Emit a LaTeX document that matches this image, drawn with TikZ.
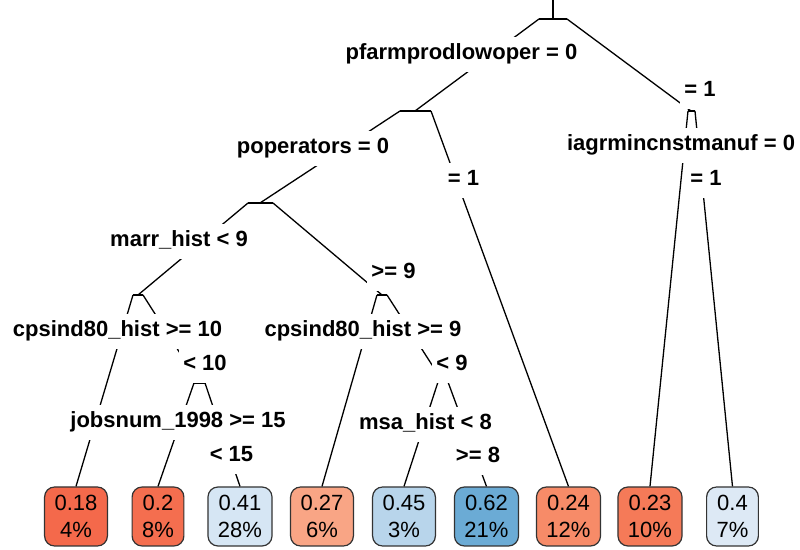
\documentclass[tikz,border=0pt]{standalone}
\usepackage{fontspec}
\setmainfont{Liberation Sans}
\definecolor{cA}{HTML}{F4694B}
\definecolor{cB}{HTML}{F46E4F}
\definecolor{cC}{HTML}{F57A58}
\definecolor{cD}{HTML}{F78B68}
\definecolor{cE}{HTML}{F9A585}
\definecolor{cF}{HTML}{D6E6F4}
\definecolor{cG}{HTML}{DDE9F5}
\definecolor{cH}{HTML}{B8D5EB}
\definecolor{cI}{HTML}{6BABD5}
\begin{document}
\begin{tikzpicture}[x=0.5pt,y=-0.5pt,
  branch/.style={line width=0.65pt, black},
  splitlabel/.style={font=\bfseries\fontsize{11}{13}\selectfont, fill=white,
    inner xsep=2pt, inner ysep=3.5pt, text height=8pt, text depth=2.4pt, anchor=base},
  leaf/.style={draw=black!80, line width=0.6pt, rounded corners=5pt, align=center,
    font=\fontsize{11}{13.5}\selectfont, minimum height=29.5pt, inner xsep=5pt, inner ysep=1pt}]
\useasboundingbox (0,0) rectangle (800,550);

% split points (centre of each bar) and bar ends
\coordinate (top) at (553,0);
\coordinate (r)   at (553,19);  \coordinate (rl)  at (539,19);  \coordinate (rr)  at (567,19);
\coordinate (n2)  at (415,111); \coordinate (n2l) at (400,111); \coordinate (n2r) at (431,111);
\coordinate (n3)  at (691,111); \coordinate (n3l) at (688,111); \coordinate (n3r) at (695,111);
\coordinate (n4)  at (260,203); \coordinate (n4l) at (248,203); \coordinate (n4r) at (273,203);
\coordinate (n8)  at (138,295); \coordinate (n8l) at (133,295); \coordinate (n8r) at (143,295);
\coordinate (n9)  at (382,295); \coordinate (n9l) at (377,295); \coordinate (n9r) at (387,295);
\coordinate (n17) at (199,383); \coordinate (n17l) at (194,383); \coordinate (n17r) at (205,383);
\coordinate (n19) at (443,382); \coordinate (n19l) at (438,382); \coordinate (n19r) at (448,382);

% leaves
\node[leaf, fill=cA] (lf1) at (76,516.5)    {0.18\\4\%};
\node[leaf, fill=cB] (lf2) at (158,516.5)   {0.2\\8\%};
\node[leaf, fill=cF] (lf3) at (240,516.5)   {0.41\\28\%};
\node[leaf, fill=cE] (lf4) at (322,516.5)   {0.27\\6\%};
\node[leaf, fill=cH] (lf5) at (404,516.5)   {0.45\\3\%};
\node[leaf, fill=cI] (lf6) at (486.5,516.5) {0.62\\21\%};
\node[leaf, fill=cD] (lf7) at (568.5,516.5) {0.24\\12\%};
\node[leaf, fill=cC] (lf8) at (650,516.5)   {0.23\\10\%};
\node[leaf, fill=cG] (lf9) at (732.5,516.5) {0.4\\7\%};

% branches
\draw[branch] (top) -- (r);
\draw[branch] (rl) -- (rr);
\draw[branch] (n2l) -- (n2r);
\draw[branch] (n3l) -- (n3r);
\draw[branch] (n4l) -- (n4r);
\draw[branch] (n8l) -- (n8r);
\draw[branch] (n9l) -- (n9r);
\draw[branch] (n17l) -- (n17r);
\draw[branch] (n19l) -- (n19r);
\draw[branch] (rl) -- (n2);
\draw[branch] (rr) -- (n3);
\draw[branch] (n2l) -- (n4);
\draw[branch] (n2r) -- (lf7.north);
\draw[branch] (n3l) -- (lf8.north);
\draw[branch] (n3r) -- (lf9.north);
\draw[branch] (n4l) -- (n8);
\draw[branch] (n4r) -- (n9);
\draw[branch] (n8l) -- (lf1.north);
\draw[branch] (n8r) -- (n17);
\draw[branch] (n9l) -- (lf4.north);
\draw[branch] (n9r) -- (n19);
\draw[branch] (n17l) -- (lf2.north);
\draw[branch] (n17r) -- (lf3.north);
\draw[branch] (n19l) -- (lf5.north);
\draw[branch] (n19r) -- (lf6.north);

% split labels
\node[splitlabel] (s1)  at (461.5,60)  {pfarmprodlowoper = 0};
\node[splitlabel] (s1r) at (700,97)    {= 1};
\node[splitlabel] (s2)  at (313,154)   {poperators = 0};
\node[splitlabel] (s2r) at (463.5,186) {= 1};
\node[splitlabel] (s3)  at (681,151)   {iagrmincnstmanuf = 0};
\node[splitlabel] (s3r) at (706,186)   {= 1};
\node[splitlabel] (s4)  at (179,247)   {marr\_hist < 9};
\node[splitlabel] (s4r) at (393.5,279) {>= 9};
\node[splitlabel] (s8)  at (117.5,337) {cpsind80\_hist >= 10};
\node[splitlabel] (s8r) at (205,371)   {< 10};
\node[splitlabel] (s9)  at (363,337)   {cpsind80\_hist >= 9};
\node[splitlabel] (s9r) at (452,371)   {< 9};
\node[splitlabel] (s17) at (178,428)   {jobsnum\_1998 >= 15};
\node[splitlabel] (s17r) at (231.5,462) {< 15};
\node[splitlabel] (s19) at (425.5,430) {msa\_hist < 8};
\node[splitlabel] (s19r) at (478,463)  {>= 8};
\end{tikzpicture}
\end{document}
